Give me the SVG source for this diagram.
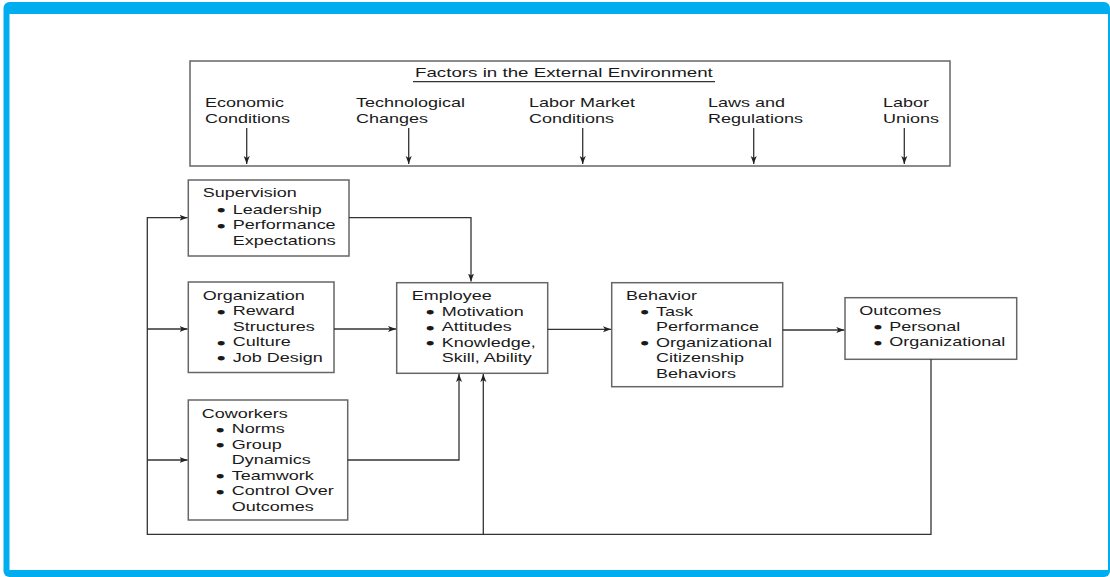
<svg xmlns="http://www.w3.org/2000/svg" width="1110" height="577" viewBox="0 0 1110 577">
<style>
text{font-family:"Liberation Sans",Arial,sans-serif;font-size:12px;fill:#1a1a1a}
text.b{font-size:13px;stroke:#1a1a1a;stroke-width:1.1}
text.title{font-size:12.5px}
.box{fill:#fff;stroke:#666;stroke-width:1.5}
.conn path,.conn line{fill:none;stroke:#333;stroke-width:1.3}
</style>
<defs>
<marker id="ah" markerUnits="userSpaceOnUse" markerWidth="10" markerHeight="8" refX="8" refY="4" orient="auto">
<path d="M0,1 L8,4 L0,7 L2,4 Z" fill="#222"/>
</marker>
</defs>
<rect x="0" y="0" width="1110" height="577" fill="#fff"/>
<rect x="3.5" y="2" width="1106.5" height="575" rx="6" fill="#00aeef"/>
<rect x="9.5" y="14" width="1098.5" height="556" fill="#fff"/>

<g id="external">
<rect class="box" x="190" y="61" width="760" height="105"/>
<g transform="translate(415 0) scale(1.5 1)"><text class="title" x="0" y="77.3">Factors in the External Environment</text></g>
<line x1="413" y1="81.7" x2="715" y2="81.7" stroke="#333" stroke-width="1.2"/>
<g id="economic" transform="translate(205 0) scale(1.5 1)"><text x="0" y="106.7">Economic</text><text x="0" y="122.7">Conditions</text></g>
<g id="technological" transform="translate(356 0) scale(1.5 1)"><text x="0" y="106.7">Technological</text><text x="0" y="122.7">Changes</text></g>
<g id="labormarket" transform="translate(529 0) scale(1.5 1)"><text x="0" y="106.7">Labor Market</text><text x="0" y="122.7">Conditions</text></g>
<g id="laws" transform="translate(708 0) scale(1.5 1)"><text x="0" y="106.7">Laws and</text><text x="0" y="122.7">Regulations</text></g>
<g id="unions" transform="translate(883 0) scale(1.5 1)"><text x="0" y="106.7">Labor</text><text x="0" y="122.7">Unions</text></g>
</g>

<g id="supervision">
<rect class="box" x="188.3" y="180" width="160.7" height="76"/>
<g transform="translate(202.7 0) scale(1.5 1)">
<text x="0" y="197">Supervision</text>
<text class="b" x="10.1" y="215.2">•</text><text x="20" y="214">Leadership</text>
<text class="b" x="10.1" y="230.7">•</text><text x="20" y="229.5">Performance</text>
<text x="20" y="245">Expectations</text>
</g>
</g>

<g id="organization">
<rect class="box" x="188.3" y="282" width="145.7" height="90.5"/>
<g transform="translate(202.7 0) scale(1.5 1)">
<text x="0" y="300">Organization</text>
<text class="b" x="10.1" y="316.7">•</text><text x="20" y="315.5">Reward</text>
<text x="20" y="331">Structures</text>
<text class="b" x="10.1" y="347.7">•</text><text x="20" y="346.5">Culture</text>
<text class="b" x="10.1" y="363.2">•</text><text x="20" y="362">Job Design</text>
</g>
</g>

<g id="coworkers">
<rect class="box" x="188.3" y="400" width="159.4" height="120"/>
<g transform="translate(201.7 0) scale(1.5 1)">
<text x="0" y="417.7">Coworkers</text>
<text class="b" x="10.1" y="434.7">•</text><text x="20" y="433.5">Norms</text>
<text class="b" x="10.1" y="450.2">•</text><text x="20" y="449">Group</text>
<text x="20" y="464.5">Dynamics</text>
<text class="b" x="10.1" y="481.2">•</text><text x="20" y="480">Teamwork</text>
<text class="b" x="10.1" y="496.7">•</text><text x="20" y="495.5">Control Over</text>
<text x="20" y="511">Outcomes</text>
</g>
</g>

<g id="employee">
<rect class="box" x="396.7" y="282.7" width="151" height="90.6"/>
<g transform="translate(411.7 0) scale(1.5 1)">
<text x="0" y="300">Employee</text>
<text class="b" x="10.1" y="317.2">•</text><text x="20" y="316">Motivation</text>
<text class="b" x="10.1" y="332.7">•</text><text x="20" y="331.5">Attitudes</text>
<text class="b" x="10.1" y="348.2">•</text><text x="20" y="347">Knowledge,</text>
<text x="20" y="362.5">Skill, Ability</text>
</g>
</g>

<g id="behavior">
<rect class="box" x="611.7" y="282.7" width="171" height="104"/>
<g transform="translate(626 0) scale(1.5 1)">
<text x="0" y="300">Behavior</text>
<text class="b" x="10.1" y="317.2">•</text><text x="20" y="316">Task</text>
<text x="20" y="331.5">Performance</text>
<text class="b" x="10.1" y="348.2">•</text><text x="20" y="347">Organizational</text>
<text x="20" y="362.5">Citizenship</text>
<text x="20" y="378">Behaviors</text>
</g>
</g>

<g id="outcomes">
<rect class="box" x="845" y="297.7" width="171.7" height="61.6"/>
<g transform="translate(859.3 0) scale(1.5 1)">
<text x="0" y="315">Outcomes</text>
<text class="b" x="10.1" y="332.2">•</text><text x="20" y="331">Personal</text>
<text class="b" x="10.1" y="347.7">•</text><text x="20" y="346.5">Organizational</text>
</g>
</g>

<g class="conn" id="connectors">
<line x1="246.7" y1="128" x2="246.7" y2="164" marker-end="url(#ah)"/>
<line x1="408.7" y1="128" x2="408.7" y2="164" marker-end="url(#ah)"/>
<line x1="582.7" y1="128" x2="582.7" y2="164" marker-end="url(#ah)"/>
<line x1="753.7" y1="128" x2="753.7" y2="164" marker-end="url(#ah)"/>
<line x1="904.3" y1="128" x2="904.3" y2="164" marker-end="url(#ah)"/>
<path d="M349,217.7 H471 V281.5" marker-end="url(#ah)"/>
<path d="M334,329 H396" marker-end="url(#ah)"/>
<path d="M347.7,460 H459 V374" marker-end="url(#ah)"/>
<path d="M547.7,329.3 H611" marker-end="url(#ah)"/>
<path d="M782.7,330 H844.3" marker-end="url(#ah)"/>
<path d="M931,359.3 V534.3 H147.3 V217.7 H187.5" marker-end="url(#ah)"/>
<path d="M147.3,329 H187.5" marker-end="url(#ah)"/>
<path d="M147.3,460 H187.5" marker-end="url(#ah)"/>
<path d="M483.3,534.3 V374" marker-end="url(#ah)"/>
</g>
</svg>
